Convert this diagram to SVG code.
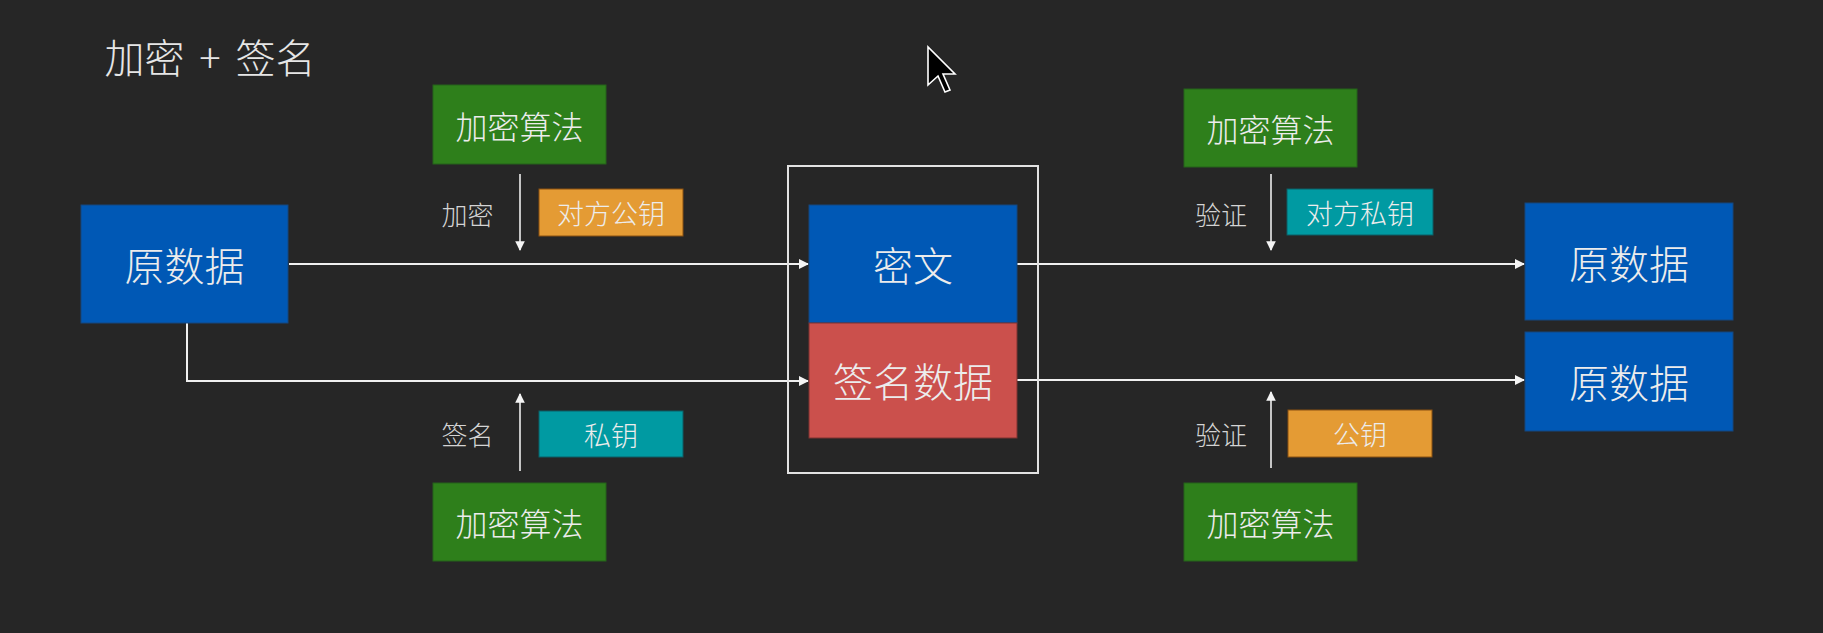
<svg xmlns="http://www.w3.org/2000/svg" width="1823" height="633" viewBox="0 0 1823 633">
<defs>
<style>
text{font-family:"Noto Sans CJK SC","Noto Sans",sans-serif;font-weight:300;text-anchor:middle;dominant-baseline:central;fill:#ececec}
.big{font-size:40px}
.alg{font-size:32px}
.tag{font-size:27px}
.lbl{font-size:26px;fill:#d4d4d4}
.blue{fill:#0058b5;stroke:#14467e;stroke-width:1}
.green{fill:#2e7f1b;stroke:#24621a;stroke-width:1}
.orange{fill:#e49b34;stroke:#8a5010;stroke-width:1}
.teal{fill:#009aa2;stroke:#0b5f66;stroke-width:1}
.red{fill:#cb504c;stroke:#7d3331;stroke-width:1}
.line{fill:none;stroke:#f0f0f0;stroke-width:2}
.thin{fill:none;stroke:#eeeeee;stroke-width:1.6}
</style>
<marker id="ah" viewBox="0 0 10 10" refX="9" refY="5" markerWidth="5" markerHeight="5" orient="auto" markerUnits="strokeWidth">
<path d="M0,0 L10,5 L0,10 z" fill="#f4f4f4"/>
</marker>
<marker id="ahs" viewBox="0 0 10 10" refX="9" refY="5" markerWidth="6" markerHeight="6" orient="auto" markerUnits="strokeWidth">
<path d="M0,0 L10,5 L0,10 z" fill="#f4f4f4"/>
</marker>
</defs>
<rect x="0" y="0" width="1823" height="633" fill="#262626"/>

<text id="title" x="210" y="56" style="font-size:40px;fill:#e6e6e6;word-spacing:6px">加密 + 签名</text>

<g id="connectors">
<path class="line" d="M289,264 H808" marker-end="url(#ah)"/>
<path class="line" d="M187,323 V381 H808" marker-end="url(#ah)"/>
<path class="line" d="M1017,264 H1524" marker-end="url(#ah)"/>
<path class="line" d="M1017,380 H1524" marker-end="url(#ah)"/>
<path class="thin" d="M520,174 V250" marker-end="url(#ahs)"/>
<path class="thin" d="M520,471 V394" marker-end="url(#ahs)"/>
<path class="thin" d="M1271,174 V250" marker-end="url(#ahs)"/>
<path class="thin" d="M1271,468 V392" marker-end="url(#ahs)"/>
</g>

<g id="frame">
<rect x="788" y="166" width="250" height="307" fill="none" stroke="#e2e2e2" stroke-width="2"/>
</g>

<g id="src">
<rect class="blue" x="81" y="205" width="207" height="118"/>
<text class="big" x="184.5" y="264">原数据</text>
</g>

<g id="alg-enc">
<rect class="green" x="433" y="85" width="173" height="79"/>
<text class="alg" x="519.5" y="125">加密算法</text>
</g>
<g id="lbl-enc"><text class="lbl" x="467.5" y="213">加密</text></g>
<g id="key-pub-other">
<rect class="orange" x="539" y="189" width="144" height="47"/>
<text class="tag" x="611" y="212.5">对方公钥</text>
</g>

<g id="alg-sign">
<rect class="green" x="433" y="483" width="173" height="78"/>
<text class="alg" x="519.5" y="522">加密算法</text>
</g>
<g id="lbl-sign"><text class="lbl" x="467.5" y="433">签名</text></g>
<g id="key-priv">
<rect class="teal" x="539" y="411" width="144" height="46"/>
<text class="tag" x="611" y="434">私钥</text>
</g>

<g id="cipher">
<rect class="blue" x="809" y="205" width="208" height="118"/>
<text class="big" x="913" y="264">密文</text>
</g>
<g id="signature">
<rect class="red" x="809" y="323" width="208" height="115"/>
<text class="big" x="913" y="380">签名数据</text>
</g>

<g id="alg-verify-top">
<rect class="green" x="1184" y="89" width="173" height="78"/>
<text class="alg" x="1270.5" y="128">加密算法</text>
</g>
<g id="lbl-verify-top"><text class="lbl" x="1221" y="213">验证</text></g>
<g id="key-priv-other">
<rect class="teal" x="1287" y="189" width="146" height="46"/>
<text class="tag" x="1360" y="212">对方私钥</text>
</g>

<g id="alg-verify-bottom">
<rect class="green" x="1184" y="483" width="173" height="78"/>
<text class="alg" x="1270.5" y="522">加密算法</text>
</g>
<g id="lbl-verify-bottom"><text class="lbl" x="1221" y="433">验证</text></g>
<g id="key-pub">
<rect class="orange" x="1288" y="410" width="144" height="47"/>
<text class="tag" x="1360" y="433.5">公钥</text>
</g>

<g id="dst-top">
<rect class="blue" x="1525" y="203" width="208" height="117"/>
<text class="big" x="1629" y="262">原数据</text>
</g>
<g id="dst-bottom">
<rect class="blue" x="1525" y="332" width="208" height="99"/>
<text class="big" x="1629" y="381">原数据</text>
</g>

<path d="M928,47 L928,85 L938,76 L945,92 L950,90 L943,74 L955,74 Z" fill="#000" stroke="#fff" stroke-width="1.6" stroke-linejoin="miter"/>
</svg>
